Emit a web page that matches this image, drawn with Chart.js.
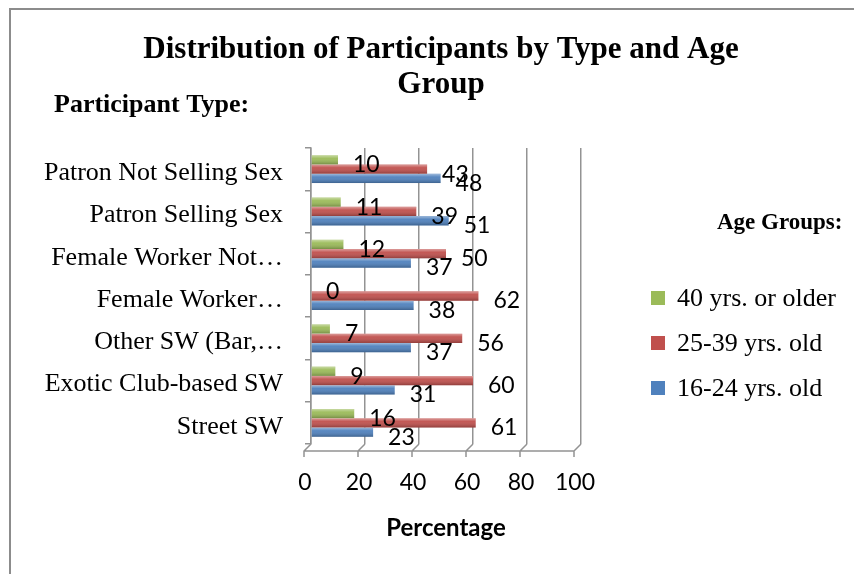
<!DOCTYPE html>
<html><head><meta charset="utf-8">
<script src="https://cdn.jsdelivr.net/npm/chart.js@4/dist/chart.umd.min.js"></script>
<style>html,body{margin:0;padding:0;background:#fff;} #wrap{position:relative;width:854px;height:574px;}</style>
</head><body><div id="wrap"><canvas id="c" width="854" height="574"></canvas></div>
<script>
const categories = ['Patron Not Selling Sex','Patron Selling Sex','Female Worker Not…','Female Worker…','Other SW (Bar,…','Exotic Club-based SW','Street SW'];
const seriesNames = ['40 yrs. or older','25-39 yrs. old','16-24 yrs. old'];
const olderValues = [10,11,12,0,7,9,16];
const midValues = [43,39,50,62,56,60,61];
const youngValues = [48,51,37,38,37,31,23];
const xTicks = [0,20,40,60,80,100];
const colors = ['#9BBB59','#C0504D','#4F81BD'];
const titleLines = ['Distribution of Participants by Type and Age','Group'];
const yTitle = 'Participant Type:';
const legendTitle = 'Age Groups:';
const xTitle = 'Percentage';

const SERIF = '"Liberation Serif","Times New Roman",serif';
const SANS = 'Lato,"Open Sans",sans-serif';
const GRID = '#939393';

const decor = {
  id: 'decor',
  beforeDraw(chart) {
    const ctx = chart.ctx;
    ctx.save();
    ctx.fillStyle = '#fff';
    ctx.fillRect(0, 0, chart.width, chart.height);
    ctx.strokeStyle = '#8c8c8c';
    ctx.lineWidth = 2;
    ctx.beginPath();
    ctx.moveTo(10, chart.height);
    ctx.lineTo(10, 9);
    ctx.lineTo(chart.width, 9);
    ctx.stroke();
    ctx.restore();
  },
  afterDatasetsDraw(chart) {
    const ctx = chart.ctx;
    ctx.save();
    chart.data.datasets.forEach((ds, i) => {
      const meta = chart.getDatasetMeta(i);
      meta.data.forEach((el) => {
        const h = el.height;
        const top = el.y - h / 2;
        const left = Math.min(el.x, el.base);
        const w = Math.abs(el.x - el.base);
        if (w <= 0) return;
        const g = ctx.createLinearGradient(0, top, 0, top + h);
        g.addColorStop(0, 'rgba(255,255,255,0.45)');
        g.addColorStop(0.35, 'rgba(255,255,255,0.05)');
        g.addColorStop(1, 'rgba(0,0,0,0.25)');
        ctx.fillStyle = g;
        ctx.fillRect(left, top, w, h);
      });
    });
    ctx.fillStyle = '#000';
    ctx.font = '23px ' + SANS;
    ctx.textAlign = 'left';
    ctx.textBaseline = 'middle';
    chart.data.datasets.forEach((ds, i) => {
      const meta = chart.getDatasetMeta(i);
      meta.data.forEach((el, j) => {
        ctx.fillText(String(ds.data[j]), el.x + 15, el.y + 5);
      });
    });
    ctx.restore();
  },
  afterDraw(chart) {
    const ctx = chart.ctx;
    const xs = chart.scales.x;
    const b = chart.chartArea.bottom;
    ctx.save();
    ctx.strokeStyle = GRID;
    ctx.lineWidth = 1.5;
    ctx.beginPath();
    ctx.moveTo(xs.getPixelForValue(0) - 7, b + 7);
    ctx.lineTo(xs.getPixelForValue(100) - 7, b + 7);
    xTicks.forEach(v => {
      const p = xs.getPixelForValue(v);
      ctx.moveTo(p, b);
      ctx.lineTo(p - 7, b + 7);
      ctx.lineTo(p - 7, b + 13);
    });
    ctx.stroke();
    ctx.fillStyle = '#000';
    ctx.textBaseline = 'middle';
    ctx.textAlign = 'center';
    ctx.font = 'bold 31px ' + SERIF;
    ctx.fillText(titleLines[0], 441, 50);
    ctx.fillText(titleLines[1], 441, 85);
    ctx.textAlign = 'left';
    ctx.font = 'bold 26px ' + SERIF;
    ctx.fillText(yTitle, 54, 105);
    ctx.font = 'bold 23px ' + SERIF;
    ctx.fillText(legendTitle, 717, 223);
    const rows = [298, 343, 388];
    ctx.font = '26px ' + SERIF;
    chart.data.datasets.forEach((ds, i) => {
      ctx.fillStyle = ds.backgroundColor;
      ctx.fillRect(651, rows[i] - 7, 14, 14);
      ctx.fillStyle = '#000';
      ctx.fillText(ds.label, 677, rows[i] + 1);
    });
    ctx.restore();
  }
};

new Chart(document.getElementById('c'), {
  type: 'bar',
  data: {
    labels: categories,
    datasets: [
      { label: seriesNames[0], data: olderValues, backgroundColor: colors[0] },
      { label: seriesNames[1], data: midValues, backgroundColor: colors[1] },
      { label: seriesNames[2], data: youngValues, backgroundColor: colors[2] }
    ]
  },
  options: {
    indexAxis: 'y',
    responsive: false,
    animation: false,
    devicePixelRatio: 1,
    categoryPercentage: 0.66,
    barPercentage: 1.0,
    borderWidth: 0,
    layout: { padding: { top: 148, right: 273, bottom: 0, left: 0 } },
    plugins: { legend: { display: false }, title: { display: false }, tooltip: { enabled: false } },
    scales: {
      x: {
        min: 0, max: 100,
        afterBuildTicks: (s) => { s.ticks = xTicks.map(v => ({ value: v })); },
        ticks: { font: { family: SANS, size: 23 }, color: '#000', padding: 25, labelOffset: -6 },
        grid: { color: GRID, lineWidth: 1.5, drawTicks: false },
        border: { display: false },
        title: { display: true, text: xTitle, color: '#000', font: { family: SANS, size: 24, weight: 'bold' }, padding: { top: 31, bottom: 31 } },
        afterFit: (s) => { s.height = 130; }
      },
      y: {
        ticks: { font: { family: SERIF, size: 26 }, color: '#000', padding: 22, labelOffset: 4 },
        grid: { drawOnChartArea: false, drawTicks: true, tickLength: 6, color: GRID, lineWidth: 1.5 },
        border: { color: GRID, width: 1.5 },
        afterFit: (s) => { s.width = 311; }
      }
    }
  },
  plugins: [decor]
});
</script>
</body></html>
